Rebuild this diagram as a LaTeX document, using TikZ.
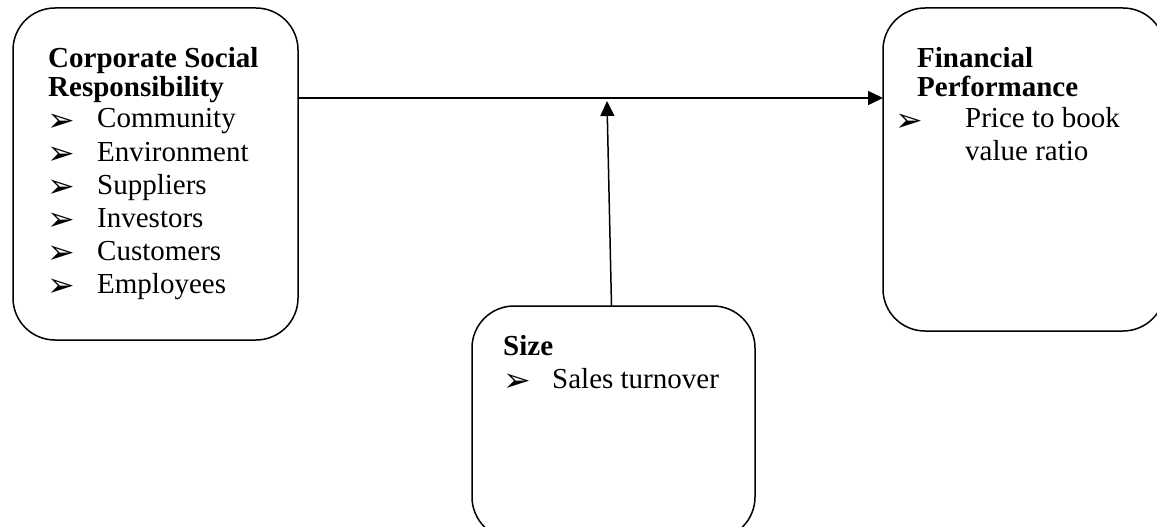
\documentclass[tikz,border=0pt]{standalone}
\usepackage{fontspec}
\setmainfont{Liberation Serif}
\newfontfamily\dejavu{DejaVu Sans}
\usetikzlibrary{arrows.meta}
\newcommand{\arrowbullet}{{\dejavu\fontsize{33}{33}\selectfont ➢}}
\tikzset{
  panel/.style={draw, line width=1.5pt, rounded corners=42pt, inner sep=0pt, outer sep=0pt},
  line/.style={anchor=base west, inner sep=0pt, font=\fontsize{29}{33}\selectfont},
  head/.style={line, font=\fontsize{29}{33}\selectfont\bfseries},
  bul/.style={anchor=base west, inner sep=0pt},
  link/.style={line width=1.5pt, -{Triangle[length=15pt,width=14pt]}}
}
\begin{document}
\begin{tikzpicture}[x=1pt,y=-1pt]
\useasboundingbox (0,0) rectangle (1157,527);
\clip (0,0) rectangle (1157,527);

% the three framed panels
\node[panel, minimum width=285pt, minimum height=332pt] (csr) at (155.5,174) {};
\node[panel, minimum width=282pt, minimum height=323pt] (fp) at (1024,169.5) {};
\node[panel, minimum width=283pt, minimum height=233pt] (size) at (613.5,422.5) {};

% Corporate Social Responsibility
\node[head] (csrh1) at (48,67) {Corporate Social};
\node[head] (csrh2) at (48,96) {Responsibility};
\foreach \t/\y [count=\i] in {Community/128, Environment/161, Suppliers/194, Investors/227, Customers/260, Employees/293} {
  \node[bul] (csrb\i) at (47,\y+3) {\arrowbullet};
  \node[line] (csrt\i) at (97,\y) {\t};
}

% Financial Performance
\node[head] (fph1) at (917,67) {Financial};
\node[head] (fph2) at (917,96) {Performance};
\node[bul] (fpb1) at (895,131) {\arrowbullet};
\node[line] (fpt1) at (965,128) {Price to book};
\node[line] (fpt2) at (965,160) {value ratio};

% Size
\node[head] (sizeh) at (503,355) {Size};
\node[bul] (sizeb1) at (503,391) {\arrowbullet};
\node[line] (sizet1) at (552,388) {Sales turnover};

% connectors
\coordinate (mod) at (607,101);
\draw[link] (csr.east |- 0,98) -- (fp.west |- 0,98);
\draw[link] ([xshift=-2pt]size.north) -- (mod);
\end{tikzpicture}
\end{document}
